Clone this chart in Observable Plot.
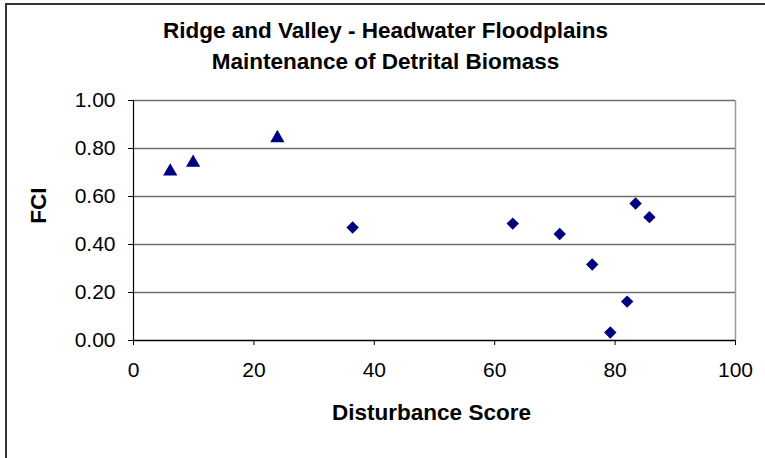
<!DOCTYPE html>
<html>
<head>
<meta charset="utf-8">
<script src="https://cdn.jsdelivr.net/npm/d3@7"></script>
<script src="https://cdn.jsdelivr.net/npm/@observablehq/plot@0.6"></script>
<style>
  html, body { margin: 0; padding: 0; background: #fff; overflow: hidden; }
  #frame { position: absolute; left: 5px; top: 3px; width: 900px; height: 600px; border: 2px solid #333; box-sizing: border-box; }
  #chart { position: absolute; left: 0; top: 0; }
</style>
</head>
<body>
<div id="frame"></div>
<div id="chart"></div>
<script>
const titleLines = ["Ridge and Valley - Headwater Floodplains", "Maintenance of Detrital Biomass"];
const xLabel = "Disturbance Score";
const yLabel = "FCI";
const xTicks = [0, 20, 40, 60, 80, 100];
const yTicks = [0, 0.2, 0.4, 0.6, 0.8, 1.0];

// Triangle series
const triX = [6.1, 9.9, 23.9];
const triY = [0.713, 0.749, 0.852];
// Diamond series
const diaX = [36.4, 63.0, 70.8, 76.2, 79.2, 82.0, 83.4, 85.7];
const diaY = [0.471, 0.487, 0.444, 0.317, 0.033, 0.162, 0.571, 0.514];

const tri = triX.map((x, i) => ({x, y: triY[i]}));
const dia = diaX.map((x, i) => ({x, y: diaY[i]}));

const navy = "#000080";
const font = "Arial, 'Liberation Sans', sans-serif";

const chart = Plot.plot({
  width: 765,
  height: 458,
  marginLeft: 133,
  marginRight: 30,
  marginTop: 100,
  marginBottom: 118,
  style: { fontFamily: font, background: "transparent", overflow: "visible", color: "#000" },
  x: { domain: [0, 100] },
  y: { domain: [0, 1] },
  marks: [
    Plot.ruleY(yTicks.filter(d => d > 0), { stroke: "#6e6e6e", strokeWidth: 1.5 }),
    Plot.ruleX([100], { stroke: "#9a9a9a", strokeWidth: 1.5 }),
    Plot.ruleX([0], { stroke: "#000", strokeWidth: 1.2 }),
    Plot.ruleY([0], { stroke: "#000", strokeWidth: 1.5 }),
    Plot.axisX({ ticks: xTicks, tickSize: 5, tickPadding: 17, fontSize: 21, label: null }),
    Plot.axisY({ ticks: yTicks, tickSize: 5, tickPadding: 13, fontSize: 21, tickFormat: d3.format(".2f"), label: null }),
    Plot.dot(tri, { x: "x", y: "y", symbol: "triangle", r: 5.3, fill: navy, dy: 2 }),
    Plot.dot(dia, { x: "x", y: "y", symbol: "diamond2", r: 5.6, fill: navy }),
    Plot.text([titleLines[0]], { frameAnchor: "top", dx: -49, dy: -78, fontSize: 22.5, fontWeight: "bold", fill: "#000" }),
    Plot.text([titleLines[1]], { frameAnchor: "top", dx: -49, dy: -47, fontSize: 22.5, fontWeight: "bold", fill: "#000" }),
    Plot.text([xLabel], { frameAnchor: "bottom", dx: -3, dy: 79, fontSize: 22.5, fontWeight: "bold", fill: "#000" }),
    Plot.text([yLabel], { frameAnchor: "left", textAnchor: "middle", lineAnchor: "middle", dx: -95, dy: -15, rotate: -90, fontSize: 22.5, fontWeight: "bold", fill: "#000" })
  ]
});
document.getElementById("chart").appendChild(chart);
</script>
</body>
</html>
